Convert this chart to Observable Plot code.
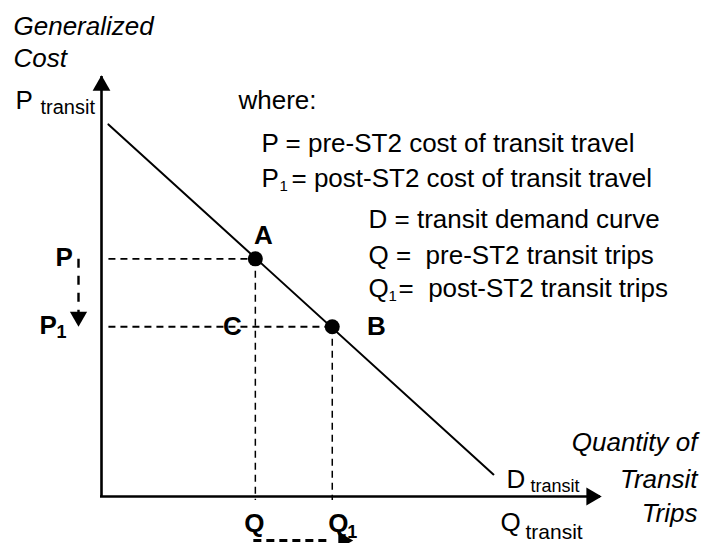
<!DOCTYPE html>
<html><head><meta charset="utf-8">
<script src="https://cdn.jsdelivr.net/npm/d3@7"></script>
<script src="https://cdn.jsdelivr.net/npm/@observablehq/plot@0.6"></script>
<style>
  body { margin: 0; background: #fff; }
  svg text { white-space: pre; }
</style>
</head><body><div id="chart"></div>
<script>
// ---- data ----
const priceNames = ["P", "P1"];        // pre / post price labels
const prices = [7, 5];                 // P, P1 (generalized cost)
const quantityNames = ["Q", "Q1"];     // pre / post quantity labels
const quantities = [4, 6];             // Q, Q1 (transit trips)
const pointNames = ["A", "B", "C"];
const demandQ = [0.18, 10.19];         // demand curve end points (quantity)
const demandP = [10.96, 0.65];         // demand curve end points (cost)
const xMax = 13, yMax = 12.4;
const legendLines = [
  "where:",
  "P = pre-ST2 cost of transit travel",
  "= post-ST2 cost of transit travel",
  "D = transit demand curve",
  "Q =  pre-ST2 transit trips",
  "=  post-ST2 transit trips"
];

// ---- layout ----
const W = 713, H = 543, ML = 101, MR = 112, MT = 75, MB = 47;
const FONT = "Arial, 'Liberation Sans', sans-serif";

const eq = prices.map((p, i) => ({p, q: quantities[i]}));
const A = {q: quantities[0], p: prices[0]};
const B = {q: quantities[1], p: prices[1]};
const C = {q: quantities[0], p: prices[1]};
const demand = demandQ.map((q, i) => ({q, p: demandP[i]}));

// pixel-anchored annotation text
function pix(t, px, py, o = {}) {
  return Plot.text([t], {
    frameAnchor: "top-left", dx: px - ML, dy: py - MT, text: d => d,
    textAnchor: "start", lineAnchor: "bottom", fontFamily: FONT,
    fontSize: 26, fill: "black", ...o
  });
}
// data-anchored label
function lab(t, d, dx, dy, o = {}) {
  return Plot.text([d], {
    x: "q", y: "p", dx, dy, text: () => t, textAnchor: "middle",
    lineAnchor: "bottom", fontFamily: FONT, fontSize: 26, fontWeight: "bold",
    fill: "black", ...o
  });
}

const chart = Plot.plot({
  width: W, height: H,
  marginLeft: ML, marginRight: MR, marginTop: MT, marginBottom: MB,
  x: {domain: [0, xMax], axis: null},
  y: {domain: [0, yMax], axis: null},
  style: {background: "white", overflow: "visible", fontFamily: FONT},
  marks: [
    // dashed guides
    Plot.link(eq, {x1: () => demandQ[0], x2: "q", y1: "p", y2: "p",
      stroke: "black", strokeWidth: 1.8, strokeDasharray: "7,5"}),
    Plot.link(eq, {x1: "q", x2: "q", y1: "p", y2: () => -0.1,
      stroke: "black", strokeWidth: 1.5, strokeDasharray: "7,5"}),
    // demand curve
    Plot.line(demand, {x: "q", y: "p", stroke: "black", strokeWidth: 2}),
    // axes
    Plot.ruleX([0], {y1: 0, y2: yMax, stroke: "black", strokeWidth: 2.6, dy: 1}),
    Plot.ruleY([0], {x1: 0, x2: xMax, stroke: "black", strokeWidth: 2.4, dx: -1}),
    Plot.dot([{q: 0, p: yMax}], {x: "q", y: "p", dy: 10, symbol: "triangle", r: 6.6, fill: "black", stroke: "none"}),
    Plot.dot([{q: xMax, p: 0}], {x: "q", y: "p", dx: -10, symbol: "triangle", rotate: 90, r: 6.6, fill: "black", stroke: "none"}),
    // equilibrium points
    Plot.dot(eq, {x: "q", y: "p", r: 7.5, fill: "black", stroke: "none"}),
    // price change arrow
    Plot.link([{p1: prices[0], p2: prices[1]}], {x1: () => 0, x2: () => 0, y1: "p1", y2: "p2", dx: -23,
      stroke: "black", strokeWidth: 2.4, strokeDasharray: "9,8"}),
    Plot.dot([{q: 0, p: prices[1]}], {x: "q", y: "p", dx: -23, dy: -10, symbol: "triangle", rotate: 180, r: 6.4, fill: "black", stroke: "none"}),
    // quantity change arrow
    Plot.link([{q1: quantities[0], q2: quantities[1]}], {x1: "q1", x2: "q2", y1: () => 0, y2: () => 0, dy: 44, dx: -2,
      stroke: "black", strokeWidth: 3, strokeDasharray: "8,5"}),
    Plot.dot([{q: quantities[1], p: 0}], {x: "q", y: "p", dx: 11, dy: 44, symbol: "triangle", rotate: 90, r: 6.4, fill: "black", stroke: "none"}),
    // point labels
    lab(pointNames[0], A, 8, -15),
    lab(pointNames[1], B, 44, 8),
    lab(pointNames[2], C, -23, 8),
    // price labels
    lab(priceNames[0], {q: 0, p: prices[0]}, -46, 7, {textAnchor: "start"}),
    lab(priceNames[1][0], {q: 0, p: prices[1]}, -62, 7, {textAnchor: "start"}),
    lab(priceNames[1][1], {q: 0, p: prices[1]}, -45, 11, {textAnchor: "start", fontSize: 18}),
    // quantity labels
    lab(quantityNames[0], {q: quantities[0], p: 0}, -1, 35),
    lab(quantityNames[1][0], {q: quantities[1], p: 0}, -4, 35, {textAnchor: "start"}),
    lab(quantityNames[1][1], {q: quantities[1], p: 0}, 15, 41, {textAnchor: "start", fontSize: 18}),
    // axis titles
    pix("Generalized", 13, 34, {fontStyle: "italic"}),
    pix("Cost", 13, 66, {fontStyle: "italic"}),
    pix("P", 15, 108),
    pix("transit", 40, 113, {fontSize: 20}),
    pix("Quantity of", 697, 450, {fontStyle: "italic", textAnchor: "end"}),
    pix("Transit", 697, 487, {fontStyle: "italic", textAnchor: "end"}),
    pix("Trips", 697, 521, {fontStyle: "italic", textAnchor: "end"}),
    pix("Q", 500, 530),
    pix("transit", 525, 538, {fontSize: 21}),
    pix("D", 506, 487),
    pix("transit", 530, 491, {fontSize: 18}),
    // legend
    pix(legendLines[0], 238, 108),
    pix(legendLines[1], 261, 151),
    pix("P", 261, 186),
    pix("1", 279, 190, {fontSize: 15}),
    pix(legendLines[2], 291, 186),
    pix(legendLines[3], 368, 227),
    pix(legendLines[4], 368, 263),
    pix("Q", 368, 296),
    pix("1", 388, 300, {fontSize: 15}),
    pix(legendLines[5], 398, 296)
  ]
});
document.getElementById("chart").appendChild(chart);
</script>
</body></html>
